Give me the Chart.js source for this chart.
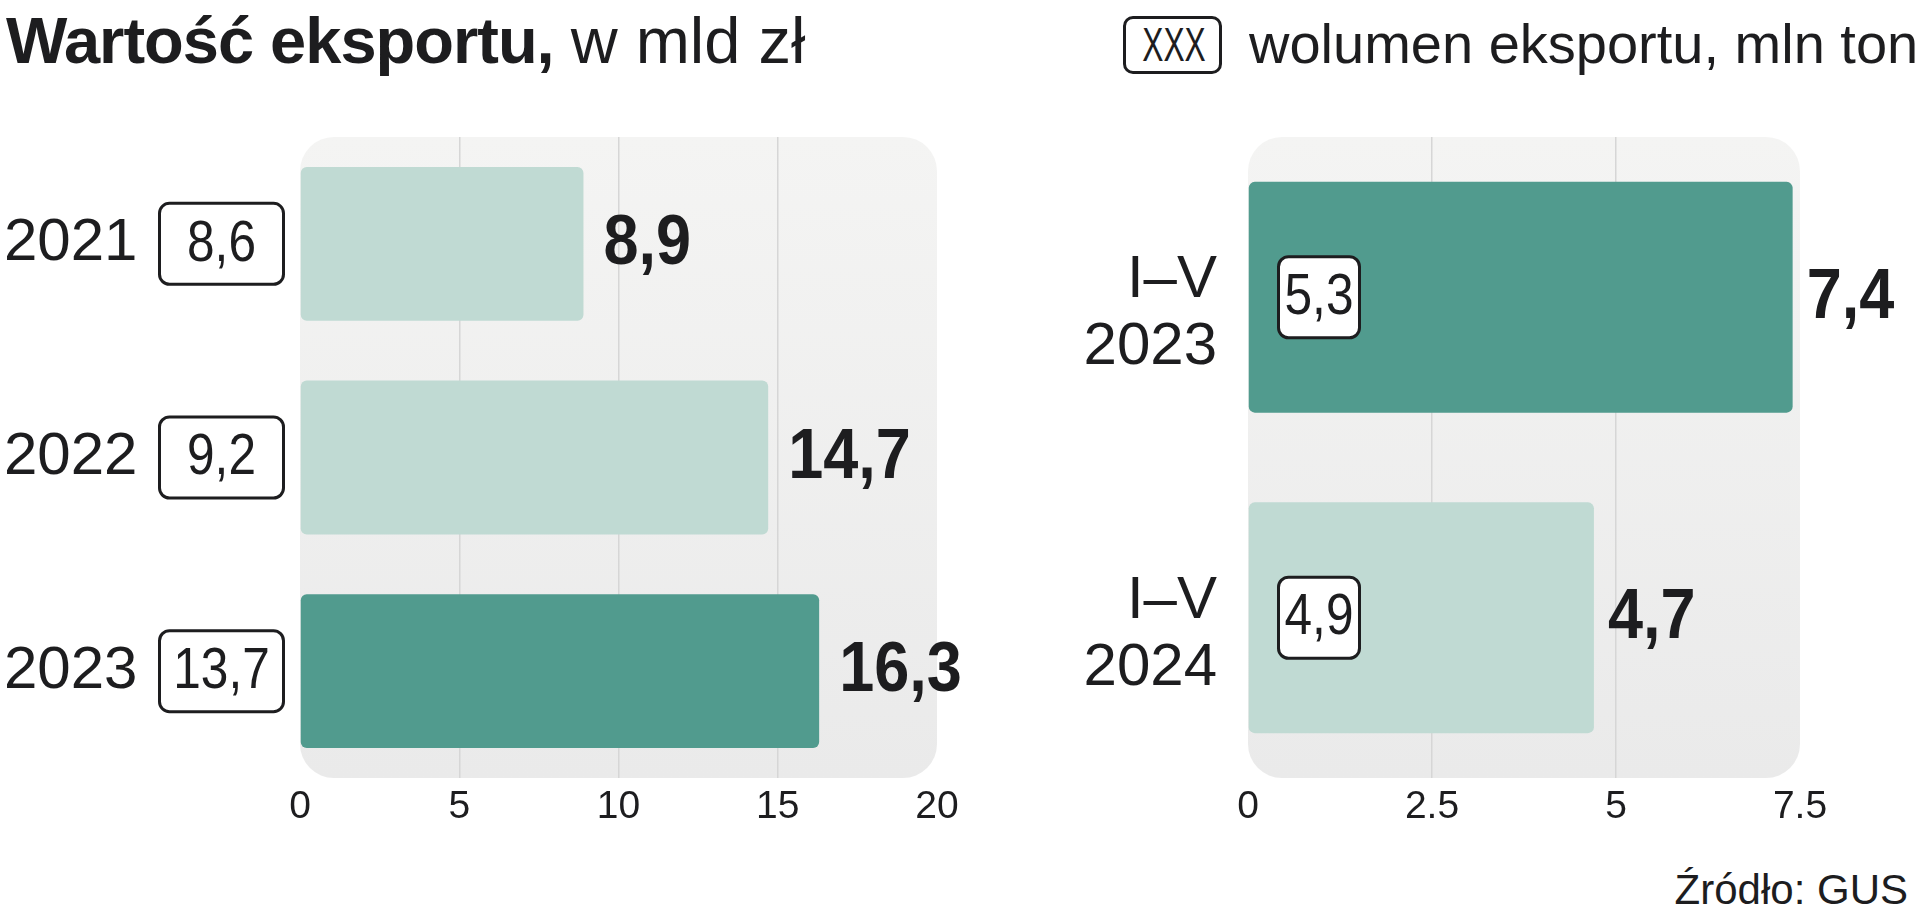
<!DOCTYPE html>
<html>
<head>
<meta charset="utf-8">
<script src="https://cdn.jsdelivr.net/npm/chart.js@4.4.1/dist/chart.umd.min.js"></script>
<style>
  body { margin: 0; width: 1920px; height: 918px; background: #fff; position: relative; overflow: hidden;
         font-family: "Liberation Sans", Arial, sans-serif; color: #1d1d1f; }
  canvas { position: absolute; top: 0; }
  #title { position: absolute; left: 6px; top: 8px; font-size: 65px; line-height: 65px; white-space: nowrap; letter-spacing: -1px; }
  #title b { font-weight: 700; }
  #title span { letter-spacing: 0; }
  #legBox { position: absolute; left: 1123px; top: 16px; width: 93px; height: 52px; border: 3px solid #1d1d1f; border-radius: 10px;
            font-size: 48px; line-height: 52px; text-align: center; }
  #legBox span { display: inline-block; transform: scaleX(0.66); }
  #legText { position: absolute; left: 1249px; top: 16px; font-size: 56px; line-height: 56px; white-space: nowrap; }
  #source { position: absolute; right: 12px; top: 869px; font-size: 42px; line-height: 42px; white-space: nowrap; }
</style>
</head>
<body>
<div id="title"><b>Wartość eksportu,</b> <span>w mld zł</span></div>
<div id="legBox"><span>XXX</span></div>
<div id="legText">wolumen eksportu, mln ton</div>
<div id="source">Źródło: GUS</div>
<canvas id="leftChart" width="1000" height="918" style="left:0"></canvas>
<canvas id="rightChart" width="960" height="918" style="left:960px"></canvas>
<script>
// dane - wartość eksportu (mld zł) i wolumen (mln ton)
const years = ['2021', '2022', '2023'];
const exportValue = [8.9, 14.7, 16.3];
const exportVolume = [8.6, 9.2, 13.7];

const periods = [['I–V', '2023'], ['I–V', '2024']];
const periodValue = [7.4, 4.7];
const periodVolume = [5.3, 4.9];

const xTicksLeft = [0, 5, 10, 15, 20];
const xTicksRight = [0, 2.5, 5, 7.5];

const LIGHT = '#c0dad3';
const DARK = '#519b8e';
const TEXT = '#1d1d1f';
const FONT = '"Liberation Sans", Arial, sans-serif';

const fmt = v => v.toFixed(1).replace('.', ',');

// tekst zwężony w poziomie (krój w oryginale jest wąski)
function drawNarrow(ctx, text, x, y, sx, align) {
    ctx.save();
    ctx.translate(x, y);
    ctx.scale(sx, 1);
    ctx.textAlign = align;
    ctx.fillText(text, 0, 0);
    ctx.restore();
}

// zaokrąglone tło obszaru wykresu
const bgPlugin = {
    id: 'plotBg',
    beforeDraw(chart) {
        const { ctx, chartArea: a } = chart;
        const g = ctx.createLinearGradient(0, a.top, 0, a.bottom);
        g.addColorStop(0, '#f4f4f3');
        g.addColorStop(1, '#eaeaea');
        ctx.save();
        ctx.fillStyle = g;
        ctx.beginPath();
        ctx.roundRect(a.left, a.top, a.right - a.left, a.bottom - a.top, 34);
        ctx.fill();
        ctx.restore();
    }
};

// wartości przy słupkach + ramki z wolumenem
function makeLabels(values, volumes, opts) {
    return {
        id: 'barLabels',
        afterDatasetsDraw(chart) {
            const ctx = chart.ctx;
            const bars = chart.getDatasetMeta(0).data;
            ctx.save();
            ctx.textBaseline = 'middle';
            bars.forEach((bar, i) => {
                ctx.fillStyle = TEXT;
                ctx.font = 'bold 70px ' + FONT;
                drawNarrow(ctx, fmt(values[i]), bar.x + opts.pad, bar.y + 1, 0.9, 'left');

                const bx = opts.boxX, bw = opts.boxW, bh = 84;
                ctx.beginPath();
                ctx.roundRect(bx + 1.5, bar.y - bh / 2 + 1.5, bw - 3, bh - 3, 10);
                ctx.fillStyle = '#fff';
                ctx.fill();
                ctx.lineWidth = 3;
                ctx.strokeStyle = TEXT;
                ctx.stroke();
                ctx.fillStyle = TEXT;
                ctx.font = '57px ' + FONT;
                drawNarrow(ctx, fmt(volumes[i]), bx + bw / 2, bar.y + 1, 0.87, 'center');
            });
            ctx.restore();
        }
    };
}

function gridColor(ticks) {
    return c => (c.index === 0 || c.index === ticks.length - 1) ? 'rgba(0,0,0,0)' : '#d6d6d6';
}

function makeChart(id, labels, values, volumes, colors, xTicks, cfg) {
    return new Chart(document.getElementById(id), {
        type: 'bar',
        data: {
            labels: labels,
            datasets: [{
                data: values,
                backgroundColor: colors,
                borderRadius: 6,
                borderSkipped: false,
                categoryPercentage: 0.72,
                barPercentage: 1
            }]
        },
        options: {
            indexAxis: 'y',
            responsive: false,
            animation: false,
            layout: { padding: { top: 137, right: cfg.padRight, bottom: 0, left: cfg.padLeft } },
            plugins: { legend: { display: false }, tooltip: { enabled: false } },
            scales: {
                x: {
                    min: xTicks[0],
                    max: xTicks[xTicks.length - 1],
                    afterBuildTicks: s => { s.ticks = xTicks.map(v => ({ value: v })); },
                    ticks: { callback: v => String(v), font: { family: FONT, size: 39 }, color: TEXT, padding: 6 },
                    grid: { color: gridColor(xTicks), lineWidth: 1.5, drawTicks: false },
                    border: { display: false },
                    afterFit: s => { s.height = 140; }
                },
                y: {
                    ticks: { font: { family: FONT, size: 60, lineHeight: 1.12 }, color: TEXT,
                             crossAlign: cfg.crossAlign, padding: cfg.labelPad, labelOffset: cfg.labelOffset },
                    grid: { display: false, drawTicks: false },
                    border: { display: false },
                    afterFit: s => { s.width = cfg.axisWidth; }
                }
            }
        },
        plugins: [bgPlugin, makeLabels(values, volumes, cfg)]
    });
}

makeChart('leftChart', years, exportValue, exportVolume, [LIGHT, LIGHT, DARK], xTicksLeft,
    { padLeft: 4, padRight: 63, axisWidth: 296, crossAlign: 'far', labelPad: 0, labelOffset: 0,
      pad: 20, boxX: 158, boxW: 127 });

makeChart('rightChart', periods, periodValue, periodVolume, [DARK, LIGHT], xTicksRight,
    { padLeft: 0, padRight: 120, axisWidth: 288, crossAlign: 'near', labelPad: 31, labelOffset: 17,
      pad: 14, boxX: 317, boxW: 84 });
</script>
</body>
</html>
